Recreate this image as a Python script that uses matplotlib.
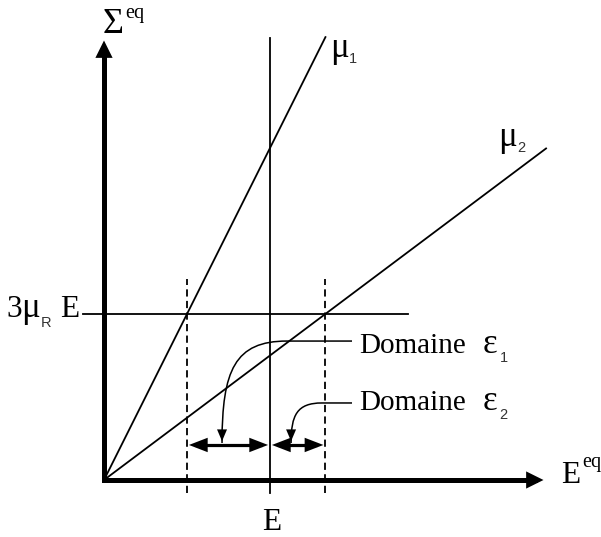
"""Schematic: equivalent stress vs equivalent strain, two slopes mu1 / mu2."""

import matplotlib

matplotlib.use("Agg")
import matplotlib.pyplot as plt
from matplotlib.patches import FancyArrowPatch, PathPatch
from matplotlib.path import Path

# schematic values (x in units of E, y in units of 3 mu_R E)
SLOPES = [2.0, 0.75]          # mu1, mu2
LINE_X_END = [1.334, 2.663]   # where each secant line stops
SLOPE_LABELS = ["\u03bc", "\u03bc"]
SLOPE_SUBS = ["1", "2"]
E_STRAIN = 1.0
SIGMA_LEVEL = 1.0             # 3 mu_R E
DOMAIN_LABELS = ["Domaine", "Domaine"]
DOMAIN_SUBS = ["1", "2"]

SERIF = "Liberation Serif"
SANS = "Liberation Sans"
FS = 22.5        # latin text
GFS = 25         # greek letters (symbol font in original is larger)
SUB_FS = 10.5
SUP_FS = 14.5
SUB_COLOR = "#333333"
THIN = 1.3


def head(ax, start, tip, length, half_width):
    ax.add_patch(
        FancyArrowPatch(
            start, tip,
            arrowstyle=f"-|>,head_length={length},head_width={half_width}",
            mutation_scale=1, shrinkA=0, shrinkB=0,
            facecolor="black", edgecolor="none", zorder=5,
        )
    )


fig = plt.figure(figsize=(6.01, 5.37), dpi=100)
ax = fig.add_axes([0, 0, 1, 1])
ax.set_xlim(-104 / 166, 497 / 166)
ax.set_ylim(-57 / 166, 480 / 166)
ax.axis("off")

# axes with arrow heads
tip = 2.657
ax.plot([0, 0], [0, tip - 0.06], color="black", lw=3.6, solid_capstyle="projecting", zorder=4)
ax.plot([0, tip - 0.06], [0, 0], color="black", lw=3.6, solid_capstyle="projecting", zorder=4)
head(ax, (0, 0), (0, tip), 12.5, 6.2)
head(ax, (0, 0), (tip, 0), 12.5, 6.2)

# secant lines mu1, mu2
for slope, xe in zip(SLOPES, LINE_X_END):
    ax.plot([0, xe], [0, slope * xe], color="black", lw=THIN)

# vertical line at E, horizontal line at 3 mu_R E
ax.plot([E_STRAIN, E_STRAIN], [-0.078, 2.663], color="black", lw=THIN)
ax.plot([-0.127, 1.831], [SIGMA_LEVEL, SIGMA_LEVEL], color="black", lw=THIN)

# dashed bounds where each line reaches 3 mu_R E
bounds = [SIGMA_LEVEL / s for s in SLOPES]
for xb in bounds:
    ax.plot([xb, xb], [-0.078, 1.211], color="black", lw=THIN, dashes=(4, 2.4))

# double arrows for the two domains
ya = 0.211
for x0, x1 in [(bounds[0], E_STRAIN), (E_STRAIN, bounds[1])]:
    ax.plot([x0 + 0.05, x1 - 0.05], [ya, ya], color="black", lw=2.3, solid_capstyle="butt")
    head(ax, (x1, ya), (x0, ya), 13.5, 5.2)
    head(ax, (x0, ya), (x1, ya), 13.5, 5.2)

# leader curves from domain labels
leaders = [
    [(1.494, 0.837), (1.102, 0.837), (0.789, 0.837), (0.711, 0.663), (0.711, 0.223)],
    [(1.494, 0.464), (1.313, 0.464), (1.163, 0.464), (1.127, 0.392), (1.127, 0.223)],
]
for pts in leaders:
    path = Path(pts, [Path.MOVETO, Path.LINETO, Path.CURVE4, Path.CURVE4, Path.CURVE4])
    ax.add_patch(PathPatch(path, fill=False, edgecolor="black", lw=1.1))
    end = pts[-1]
    head(ax, (end[0], end[1] + 0.2), end, 8.5, 3.6)

# labels
ax.text(-0.006, 2.693, "\u03a3", family=SERIF, fontsize=GFS + 1, va="baseline")
ax.text(0.127, 2.783, "eq", family=SERIF, fontsize=SUP_FS, va="baseline")
ax.text(2.753, -0.018, "E", family=SERIF, fontsize=FS, va="baseline")
ax.text(2.880, 0.078, "eq", family=SERIF, fontsize=SUP_FS, va="baseline")
ax.text(1.012, -0.301, "E", family=SERIF, fontsize=FS, va="baseline", ha="center")

ax.text(-0.590, 0.982, "3", family=SERIF, fontsize=FS, va="baseline")
ax.text(-0.500, 0.982, "\u03bc", family=SERIF, fontsize=GFS, va="baseline")
ax.text(-0.383, 0.922, "R", family=SANS, fontsize=SUB_FS, va="baseline", color=SUB_COLOR)
ax.text(-0.265, 0.982, "E", family=SERIF, fontsize=FS, va="baseline")

mu_pos = [((1.365, 2.548), (1.476, 2.512)), ((2.372, 2.012), (2.488, 1.976))]
for lab, sub, (mp, sp) in zip(SLOPE_LABELS, SLOPE_SUBS, mu_pos):
    ax.text(*mp, lab, family=SERIF, fontsize=GFS, va="baseline")
    ax.text(*sp, sub, family=SANS, fontsize=SUB_FS, va="baseline", color=SUB_COLOR)

dom_y = [0.765, 0.422]
for lab, sub, y in zip(DOMAIN_LABELS, DOMAIN_SUBS, dom_y):
    ax.text(1.536, y, lab, family=SERIF, fontsize=21, va="baseline")
    ax.text(2.280, y, "\u03b5", family=SERIF, fontsize=GFS, va="baseline")
    ax.text(2.382, y - 0.055, sub, family=SANS, fontsize=SUB_FS, va="baseline", color=SUB_COLOR)

fig.savefig("out.png", dpi=100, facecolor="white")
